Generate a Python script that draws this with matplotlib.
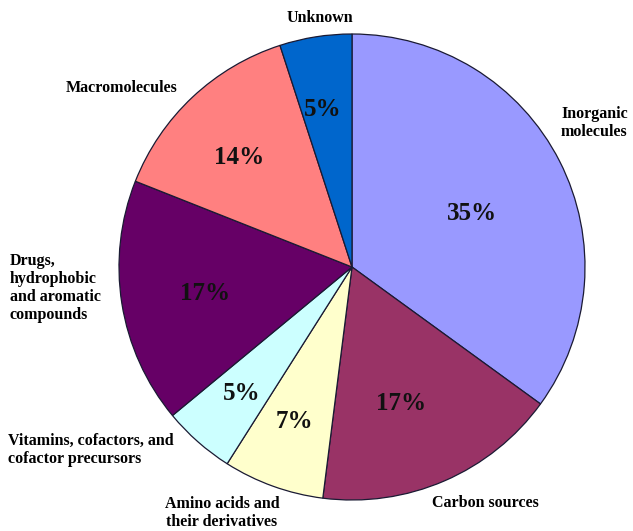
import matplotlib.pyplot as plt

categories = ['Inorganic\nmolecules', 'Carbon sources', 'Amino acids and\ntheir derivatives',
              'Vitamins, cofactors, and\ncofactor precursors',
              'Drugs,\nhydrophobic\nand aromatic\ncompounds', 'Macromolecules', 'Unknown']
shares = [35, 17, 7, 5, 17, 14, 5]
colors = ['#9999FF', '#993366', '#FFFFCC', '#CCFFFF', '#660066', '#FF8080', '#0066CC']

W, H = 633, 531
# label / percent positions in image pixels (x, y from top)
label_pos = [(561, 123, 'left'), (485, 503, 'center'), (222, 513, 'center'),
             (8, 450, 'left'), (10, 288, 'left'), (122, 88, 'center'), (320, 18, 'center')]
pct_pos = [(472, 213), (401, 403), (294, 422), (242, 393), (205, 293), (239, 158), (323, 110)]

fig = plt.figure(figsize=(W / 100, H / 100), dpi=100)
ax = fig.add_axes([0, 0, 1, 1])

ax.pie(shares, colors=colors, startangle=90, counterclock=False,
       center=(352, H - 267), radius=233,
       wedgeprops=dict(edgecolor='#1a1a33', linewidth=0.9))
ax.set_xlim(0, W)
ax.set_ylim(0, H)
ax.set_aspect('equal')
ax.axis('off')

serif = ['Liberation Serif', 'DejaVu Serif']
for name, (x, y, ha) in zip(categories, label_pos):
    ax.text(x, H - y, name, ha=ha, va='center', fontsize=11.5, fontweight='bold',
            family=serif, linespacing=1.15, clip_on=False)

for val, (x, y) in zip(shares, pct_pos):
    ax.text(x, H - y, f'{val}%', ha='center', va='center', fontsize=18,
            fontweight='bold', family=serif, color='#111111')

fig.savefig('out.png', dpi=100)
